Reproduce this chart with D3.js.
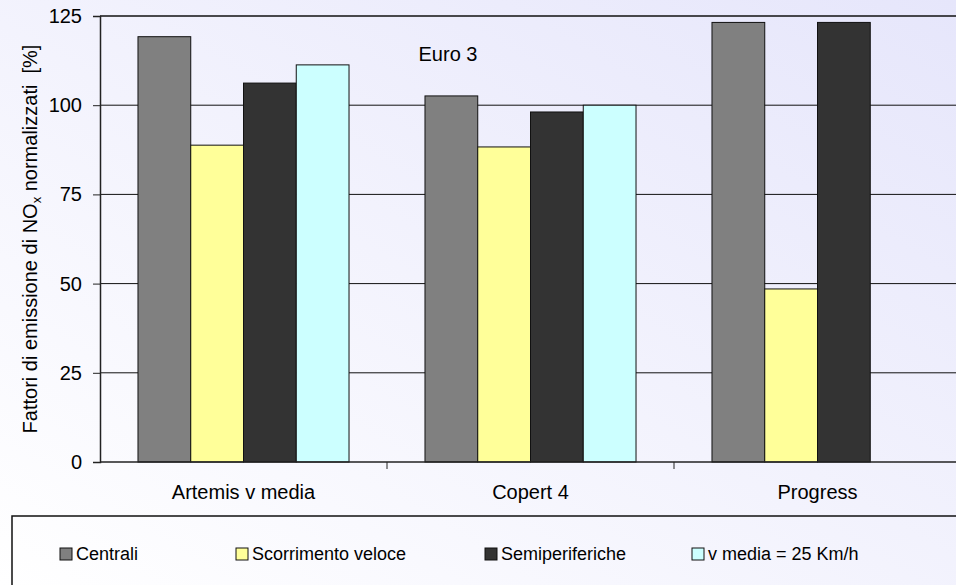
<!DOCTYPE html>
<html>
<head>
<meta charset="utf-8">
<style>
    body { margin: 0; overflow: hidden; }
    svg { display: block; font-family: Arial, 'Liberation Sans', sans-serif; }
</style>
</head>
<body>
<svg width="956" height="585"></svg>

<script src="https://d3js.org/d3.v7.min.js"></script>
<script>
    // data
    let categories = ["Artemis v media", "Copert 4", "Progress"]
    let seriesNames = ["Centrali", "Scorrimento veloce", "Semiperiferiche", "v media = 25 Km/h"]
    let centrali = [119.2, 102.6, 123.2]
    let scorrimento = [88.8, 88.3, 48.5]
    let semiperiferiche = [106.2, 98.1, 123.2]
    let vmedia = [111.3, 100.0, null]
    let yTicks = [0, 25, 50, 75, 100, 125]

    let colors = ["#808080", "#ffff99", "#333333", "#ccffff"]
    let legendX = [60, 236, 485, 692]

    let allSeries = [centrali, scorrimento, semiperiferiche, vmedia]

    let svg = d3.select("svg")

    // background gradient
    let defs = svg.append("defs")
    let grad = defs.append("linearGradient")
        .attr("id", "bg")
        .attr("x1", "0").attr("y1", "1")
        .attr("x2", "1").attr("y2", "0")
    grad.append("stop").attr("offset", "0%").attr("stop-color", "#ffffff")
    grad.append("stop").attr("offset", "100%").attr("stop-color", "#e6e6fb")

    svg.append("rect")
        .attr("width", 956).attr("height", 585)
        .attr("fill", "url(#bg)")

    let plotLeft = 100, plotRight = 961, plotTop = 16, plotBottom = 462

    let x = d3.scaleBand()
        .domain(categories)
        .range([plotLeft, plotRight])

    let xs = d3.scaleBand()
        .domain(d3.range(seriesNames.length))
        .range([0, x.bandwidth()])
        .paddingOuter(0.72)

    let y = d3.scaleLinear()
        .domain([0, 125])
        .range([plotBottom, plotTop])

    // gridlines
    svg.append("g")
        .selectAll("line")
        .data(yTicks.filter(d => d > 0))
        .join("line")
        .attr("x1", plotLeft).attr("x2", plotRight)
        .attr("y1", d => y(d)).attr("y2", d => y(d))
        .attr("stroke", "#111")
        .attr("stroke-width", d => d == 125 ? 1.6 : 1)

    // bars
    let rows = []
    allSeries.forEach((vals, s) => {
        vals.forEach((v, i) => {
            if (v != null) rows.push({ cat: categories[i], s: s, v: v })
        })
    })

    svg.append("g")
        .selectAll("rect")
        .data(rows)
        .join("rect")
        .attr("x", d => x(d.cat) + xs(d.s))
        .attr("width", xs.bandwidth())
        .attr("y", d => y(d.v))
        .attr("height", d => y(0) - y(d.v))
        .attr("fill", d => colors[d.s])
        .attr("stroke", "#111")
        .attr("stroke-width", 1)

    // y axis
    let yAxis = svg.append("g")
        .attr("transform", "translate(" + plotLeft + ",0)")
        .call(d3.axisLeft(y).tickValues(yTicks).tickSize(7).tickPadding(11))
    yAxis.select(".domain").attr("stroke", "#222").attr("stroke-width", 1.5)
    yAxis.selectAll(".tick line").attr("stroke", "#222")
    yAxis.selectAll("text")
        .attr("font-size", 20)
        .attr("fill", "#000")
        .attr("font-family", "Arial, 'Liberation Sans', sans-serif")

    // x axis
    let xAxis = svg.append("g")
        .attr("transform", "translate(0," + plotBottom + ")")
    xAxis.append("line")
        .attr("x1", plotLeft).attr("x2", plotRight)
        .attr("stroke", "#222").attr("stroke-width", 1.5)
    xAxis.selectAll(".sep")
        .data(categories.slice(1))
        .join("line")
        .attr("class", "sep")
        .attr("x1", d => x(d)).attr("x2", d => x(d))
        .attr("y1", 0).attr("y2", 7)
        .attr("stroke", "#222")
    xAxis.selectAll(".lbl")
        .data(categories)
        .join("text")
        .attr("class", "lbl")
        .attr("x", d => x(d) + x.bandwidth() / 2)
        .attr("y", 37)
        .attr("text-anchor", "middle")
        .attr("font-size", 20)
        .text(d => d)

    // y axis title
    let title = svg.append("text")
        .attr("transform", "translate(37,239) rotate(-90)")
        .attr("text-anchor", "middle")
        .attr("font-size", 20)
        .style("white-space", "pre")
    title.append("tspan").text("Fattori di emissione di NO")
    title.append("tspan").attr("font-size", 13).attr("dy", 4).text("x")
    title.append("tspan").attr("dy", -4).text(" normalizzati  [%]")

    // Euro 3 label
    svg.append("text")
        .attr("x", 448).attr("y", 61)
        .attr("text-anchor", "middle")
        .attr("font-size", 20)
        .text("Euro 3")

    // legend box
    svg.append("rect")
        .attr("x", 12).attr("y", 516)
        .attr("width", 1000).attr("height", 100)
        .attr("fill", "none")
        .attr("stroke", "#111")
        .attr("stroke-width", 1.5)

    let legend = svg.append("g")
        .selectAll("g")
        .data(seriesNames)
        .join("g")
        .attr("transform", (d, i) => "translate(" + legendX[i] + ",548)")
    legend.append("rect")
        .attr("width", 12).attr("height", 12)
        .attr("fill", (d, i) => colors[i])
        .attr("stroke", "#111")
    legend.append("text")
        .attr("x", 16).attr("y", 12)
        .attr("font-size", 18)
        .text(d => d)
</script>
</body>
</html>
